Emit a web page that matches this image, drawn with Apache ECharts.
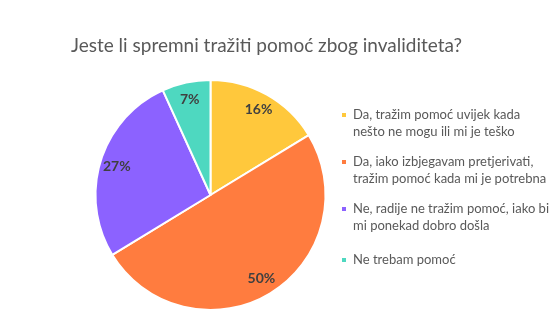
<!DOCTYPE html>
<html>
<head>
<meta charset="utf-8">
<script src="https://cdn.jsdelivr.net/npm/echarts@6/dist/echarts.min.js"></script>
<style>html,body{margin:0;padding:0;background:#fff;}#c{width:551px;height:333px;}</style>
</head>
<body>
<div id="c"></div>
<script>
var titleText = 'Jeste li spremni tražiti pomoć zbog invaliditeta?';
var categories = [
  'Da, tražim pomoć uvijek kada\nnešto ne mogu ili mi je teško',
  'Da, iako izbjegavam pretjerivati,\ntražim pomoć kada mi je potrebna',
  'Ne, radije ne tražim pomoć, iako bi\nmi ponekad dobro došla',
  'Ne trebam pomoć'
];
var values = [16.3, 50.0, 26.9, 6.8];
var colors = ['#FFC83C', '#FF7C3F', '#8C62FF', '#4ED8C0'];

var FONT = 'Lato';
var iconTwoLine = 'path://M0,0h6v6h-6z M0,22.99h0.01v0.01h-0.01z';
var iconOneLine = 'path://M0,0h0.01v0.01h-0.01z M0,8.5h6v6h-6z M0,22.99h0.01v0.01h-0.01z';

var pieData = categories.map(function (c, i) {
  return { name: c, value: values[i], itemStyle: { color: colors[i] } };
});
var labelData = categories.map(function (c, i) {
  return { name: c, value: values[i] };
});

var chart = echarts.init(document.getElementById('c'), null, { renderer: 'canvas' });
chart.setOption({
  animation: false,
  backgroundColor: '#ffffff',
  title: {
    text: titleText,
    left: 66,
    top: 31,
    textStyle: { fontFamily: FONT, fontSize: 19, fontWeight: 'normal', color: '#595959' }
  },
  legend: {
    orient: 'vertical',
    left: 340,
    top: 106.5,
    padding: 0,
    itemWidth: 6,
    itemHeight: 23,
    itemGap: 13,
    selectedMode: false,
    data: categories.map(function (c) {
      return { name: c, icon: c.indexOf('\n') >= 0 ? iconTwoLine : iconOneLine };
    }),
    textStyle: { fontFamily: FONT, fontSize: 13, color: '#595959', lineHeight: 17, padding: [0, 0, 0, 1] }
  },
  series: [
    {
      type: 'pie',
      center: [210.5, 195],
      radius: [0, 115],
      startAngle: 90,
      clockwise: true,
      silent: true,
      label: { show: false },
      labelLine: { show: false },
      itemStyle: { borderColor: '#ffffff', borderWidth: 2 },
      data: pieData
    },
    {
      type: 'pie',
      center: [210.5, 195],
      radius: [75, 115],
      startAngle: 90,
      clockwise: true,
      silent: true,
      legendHoverLink: false,
      itemStyle: { color: 'rgba(0,0,0,0)' },
      label: {
        show: true,
        position: 'inside',
        formatter: function (p) { return Math.round(p.percent) + '%'; },
        fontFamily: FONT,
        fontSize: 14,
        fontWeight: 'bold',
        color: '#404040'
      },
      labelLine: { show: false },
      data: labelData
    }
  ]
});
</script>
</body>
</html>
